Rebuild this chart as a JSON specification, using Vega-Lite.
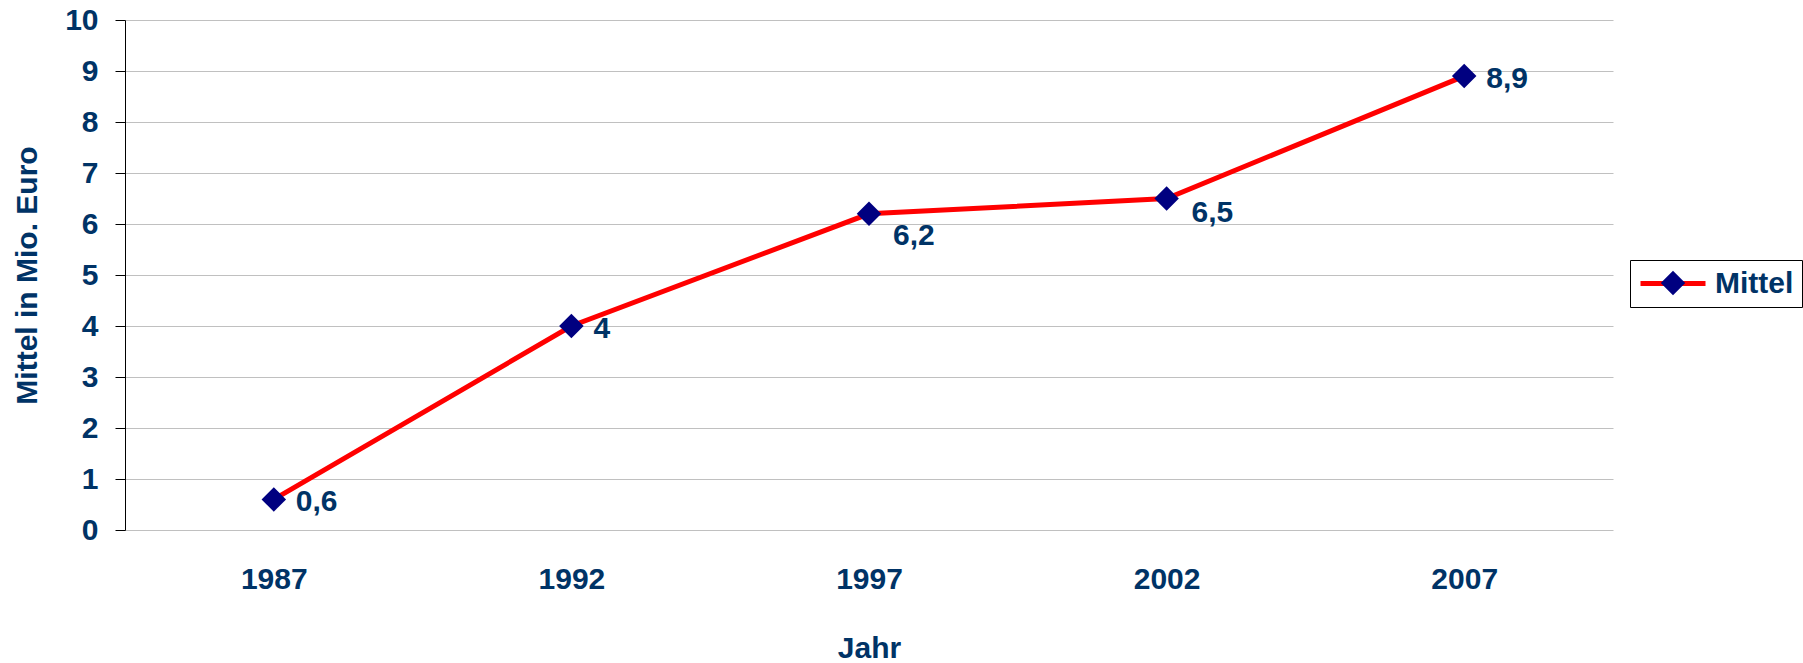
{
  "$schema": "https://vega.github.io/schema/vega-lite/v6.json",
  "autosize": "none",
  "width": 1488,
  "height": 510,
  "padding": {"left": 125, "top": 20, "right": 190, "bottom": 133},
  "background": "white",
  "config": {
    "view": {"stroke": null},
    "font": "Liberation Sans",
    "locale": {"number": {"decimal": ",", "thousands": ".", "grouping": [3], "currency": ["", " €"]}}
  },
  "data": {
    "values": [
      {"Jahr": "1987", "Mittel": 0.6, "Reihe": "Mittel"},
      {"Jahr": "1992", "Mittel": 4.0, "Reihe": "Mittel"},
      {"Jahr": "1997", "Mittel": 6.2, "Reihe": "Mittel"},
      {"Jahr": "2002", "Mittel": 6.5, "Reihe": "Mittel"},
      {"Jahr": "2007", "Mittel": 8.9, "Reihe": "Mittel"}
    ]
  },
  "encoding": {
    "x": {
      "field": "Jahr", "type": "ordinal",
      "scale": {"type": "point", "padding": 0.5},
      "axis": {
        "title": "Jahr", "labelAngle": 0, "domain": false, "ticks": false, "grid": false,
        "labelFont": "Liberation Sans", "labelFontWeight": "bold", "labelFontSize": 30, "labelColor": "#003366",
        "labelPadding": 34,
        "titleFont": "Liberation Sans", "titleFontWeight": "bold", "titleFontSize": 30, "titleColor": "#003366",
        "titlePadding": 39
      }
    },
    "y": {
      "field": "Mittel", "type": "quantitative",
      "scale": {"domain": [0, 10], "nice": false},
      "axis": {
        "title": "Mittel in Mio. Euro", "values": [0,1,2,3,4,5,6,7,8,9,10],
        "domain": true, "domainColor": "#000000", "domainWidth": 1,
        "ticks": true, "tickColor": "#000000", "tickSize": 10, "tickWidth": 1,
        "grid": true, "gridColor": "#C0C0C0", "gridWidth": 1,
        "labelFont": "Liberation Sans", "labelFontWeight": "bold", "labelFontSize": 30, "labelColor": "#003366",
        "labelPadding": 17,
        "titleFont": "Liberation Sans", "titleFontWeight": "bold", "titleFontSize": 30, "titleColor": "#003366",
        "titlePadding": 22
      }
    }
  },
  "layer": [
    {
      "mark": {"type": "line", "strokeWidth": 5},
      "encoding": {
        "color": {
          "datum": "Mittel",
          "scale": {"range": ["#FF0000"]},
          "legend": {
            "title": null, "orient": "none", "legendX": 1505, "legendY": 240, "zindex": 0,
            "padding": 8, "strokeColor": "#000000", "fillColor": null,
            "symbolType": "M-1,0H4", "symbolSize": 676, "symbolStrokeWidth": 5, "symbolStrokeColor": "#FF0000",
            "symbolFillColor": "transparent",
            "labelFont": "Liberation Sans", "labelFontWeight": "bold", "labelFontSize": 30, "labelColor": "#003366",
            "labelOffset": 46
          }
        }
      }
    },
    {
      "mark": {"type": "point", "filled": true, "fill": "#000080", "size": 600, "opacity": 1},
      "encoding": {
        "shape": {
          "field": "Reihe", "type": "nominal",
          "scale": {"range": ["diamond"]},
          "legend": {
            "title": null, "orient": "none", "legendX": 1525, "legendY": 240, "zindex": 1,
            "padding": 8,
            "symbolSize": 600, "symbolFillColor": "#000080", "symbolStrokeWidth": 0, "symbolOpacity": 1,
            "labelFont": "Liberation Sans", "labelFontWeight": "bold", "labelFontSize": 30, "labelOpacity": 0,
            "labelExpr": "' '",
            "labelOffset": 9
          }
        }
      }
    },
    {
      "transform": [{"filter": "datum.Jahr != '1997' && datum.Jahr != '2002'"}],
      "mark": {"type": "text", "align": "left", "baseline": "middle", "dx": 22, "dy": 3,
               "font": "Liberation Sans", "fontWeight": "bold", "fontSize": 30, "color": "#003366"},
      "encoding": {"text": {"field": "Mittel", "type": "quantitative", "format": ".1~f"}}
    },
    {
      "transform": [{"filter": "datum.Jahr == '1997'"}],
      "mark": {"type": "text", "align": "left", "baseline": "middle", "dx": 24, "dy": 22,
               "font": "Liberation Sans", "fontWeight": "bold", "fontSize": 30, "color": "#003366"},
      "encoding": {"text": {"field": "Mittel", "type": "quantitative", "format": ".1~f"}}
    },
    {
      "transform": [{"filter": "datum.Jahr == '2002'"}],
      "mark": {"type": "text", "align": "left", "baseline": "middle", "dx": 25, "dy": 14,
               "font": "Liberation Sans", "fontWeight": "bold", "fontSize": 30, "color": "#003366"},
      "encoding": {"text": {"field": "Mittel", "type": "quantitative", "format": ".1~f"}}
    }
  ]
}
